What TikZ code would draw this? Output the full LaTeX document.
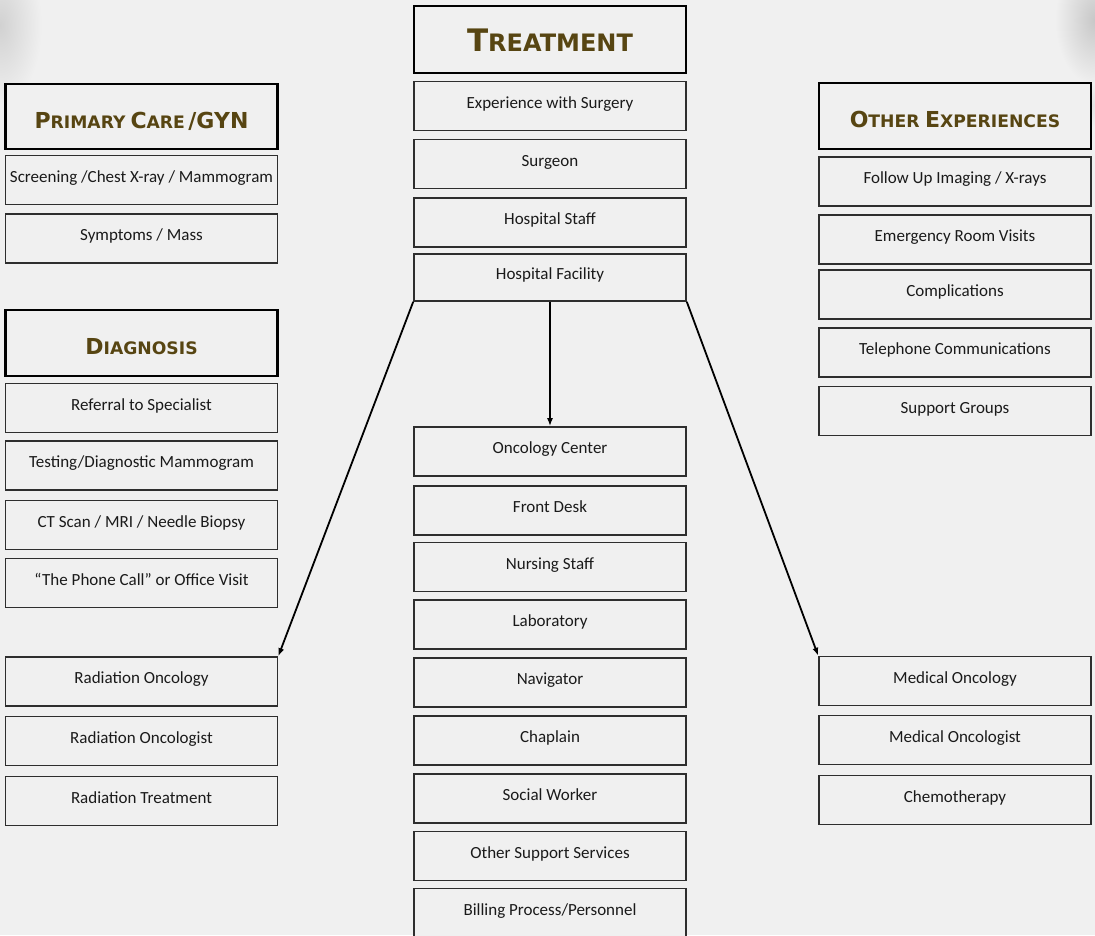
\documentclass[tikz,border=0pt]{standalone}
\usepackage{fontspec}
\setmainfont{Carlito}
\newfontfamily\headfont{DejaVu Sans}[BoldFont={DejaVu Sans Bold}]
\usetikzlibrary{arrows.meta}
\definecolor{bg}{HTML}{F0F0F0}
\definecolor{gold}{HTML}{574512}
\definecolor{txt}{HTML}{1A1A1A}
\newcommand\hcap[2]{{\fontsize{\hbig}{\hbig}\selectfont #1}{\fontsize{\hsmall}{\hsmall}\selectfont #2}}
\def\hbig{22}\def\hsmall{17.2}
\tikzset{
  item/.style={draw=black!82, line width=1.6pt, fill=bg, minimum height=49pt,
    minimum width=272pt, inner sep=0pt, font=\fontsize{17}{19}\selectfont,
    text=txt, text height=10pt, text depth=6pt},
  head/.style={draw=black, line width=2.6pt, fill=bg, minimum width=272pt,
    inner sep=0pt, text=gold, font=\headfont\bfseries, text height=23pt, text depth=0pt},
  arr/.style={-{Latex[length=8pt,width=6pt]}, line width=1.8pt, black}
}
\begin{document}
\begin{tikzpicture}[x=1pt,y=-1pt]
\fill[bg] (0,0) rectangle (1095,935);
\clip (0,0) rectangle (1095,935);
\useasboundingbox (0,0) rectangle (1095,935);
% corner textures
\shade[inner color=black!18, outer color=bg] (0,25) ellipse (42 and 80);
\shade[inner color=black!22, outer color=bg] (1095,20) ellipse (40 and 65);
\shade[inner color=black!12, outer color=bg] (1090,105) ellipse (16 and 22);

% left column
\node[head, minimum height=65pt] (pc) at (141.5,116.5) {\hcap{P}{RIMARY}\hspace{0.15em} \hcap{C}{ARE} \hcap{/GYN}{}};
\node[item] (scr) at (141.5,180) {Screening /Chest X-ray / Mammogram};
\node[item] (sym) at (141.5,238.5) {Symptoms / Mass};
\node[head, minimum height=66pt] (dg) at (141.5,343) {\hcap{D}{IAGNOSIS}};
\node[item] (ref) at (141.5,408) {Referral to Specialist};
\node[item] (tst) at (141.5,465.5) {Testing/Diagnostic Mammogram};
\node[item] (ct) at (141.5,525) {CT Scan / MRI / Needle Biopsy};
\node[item] (call) at (141.5,583) {``The Phone Call'' or Office Visit};
\node[item] (ro) at (141.5,681.5) {Radiation Oncology};
\node[item] (rog) at (141.5,741) {Radiation Oncologist};
\node[item] (rt) at (141.5,801) {Radiation Treatment};

% center column
\def\hbig{31}\def\hsmall{24}
\node[head, minimum height=67pt] (tr) at (550,39.5) {\hcap{T}{REATMENT}};
\def\hbig{22}\def\hsmall{17.2}
\node[item] (exp) at (550,106) {Experience with Surgery};
\node[item] (sur) at (550,164) {Surgeon};
\node[item] (hs) at (550,222.5) {Hospital Staff};
\node[item, minimum height=47pt] (hf) at (550,277.5) {Hospital Facility};
\node[item] (oc) at (550,451.5) {Oncology Center};
\node[item] (fd) at (550,510.5) {Front Desk};
\node[item] (ns) at (550,567) {Nursing Staff};
\node[item] (lab) at (550,624.5) {Laboratory};
\node[item] (nav) at (550,682.5) {Navigator};
\node[item] (chap) at (550,740.5) {Chaplain};
\node[item] (sw) at (550,798.5) {Social Worker};
\node[item] (oss) at (550,856) {Other Support Services};
\node[item] (bill) at (550,913) {Billing Process/Personnel};

% right column
\node[head, minimum height=66pt] (oe) at (955,116) {\hcap{O}{THER}\hspace{0.2em} \hcap{E}{XPERIENCES}};
\node[item] (fu) at (955,181.5) {Follow Up Imaging / X-rays};
\node[item] (er) at (955,239.5) {Emergency Room Visits};
\node[item] (comp) at (955,294.5) {Complications};
\node[item] (tel) at (955,352.5) {Telephone Communications};
\node[item] (sg) at (955,411) {Support Groups};
\node[item] (mo) at (955,681) {Medical Oncology};
\node[item] (mog) at (955,740) {Medical Oncologist};
\node[item] (chemo) at (955,800) {Chemotherapy};

% connectors
\draw[arr] (hf.south) -- (oc.north);
\draw[arr] (hf.south west) -- (ro.north east);
\draw[arr] (hf.south east) -- (mo.north west);
\end{tikzpicture}
\end{document}
